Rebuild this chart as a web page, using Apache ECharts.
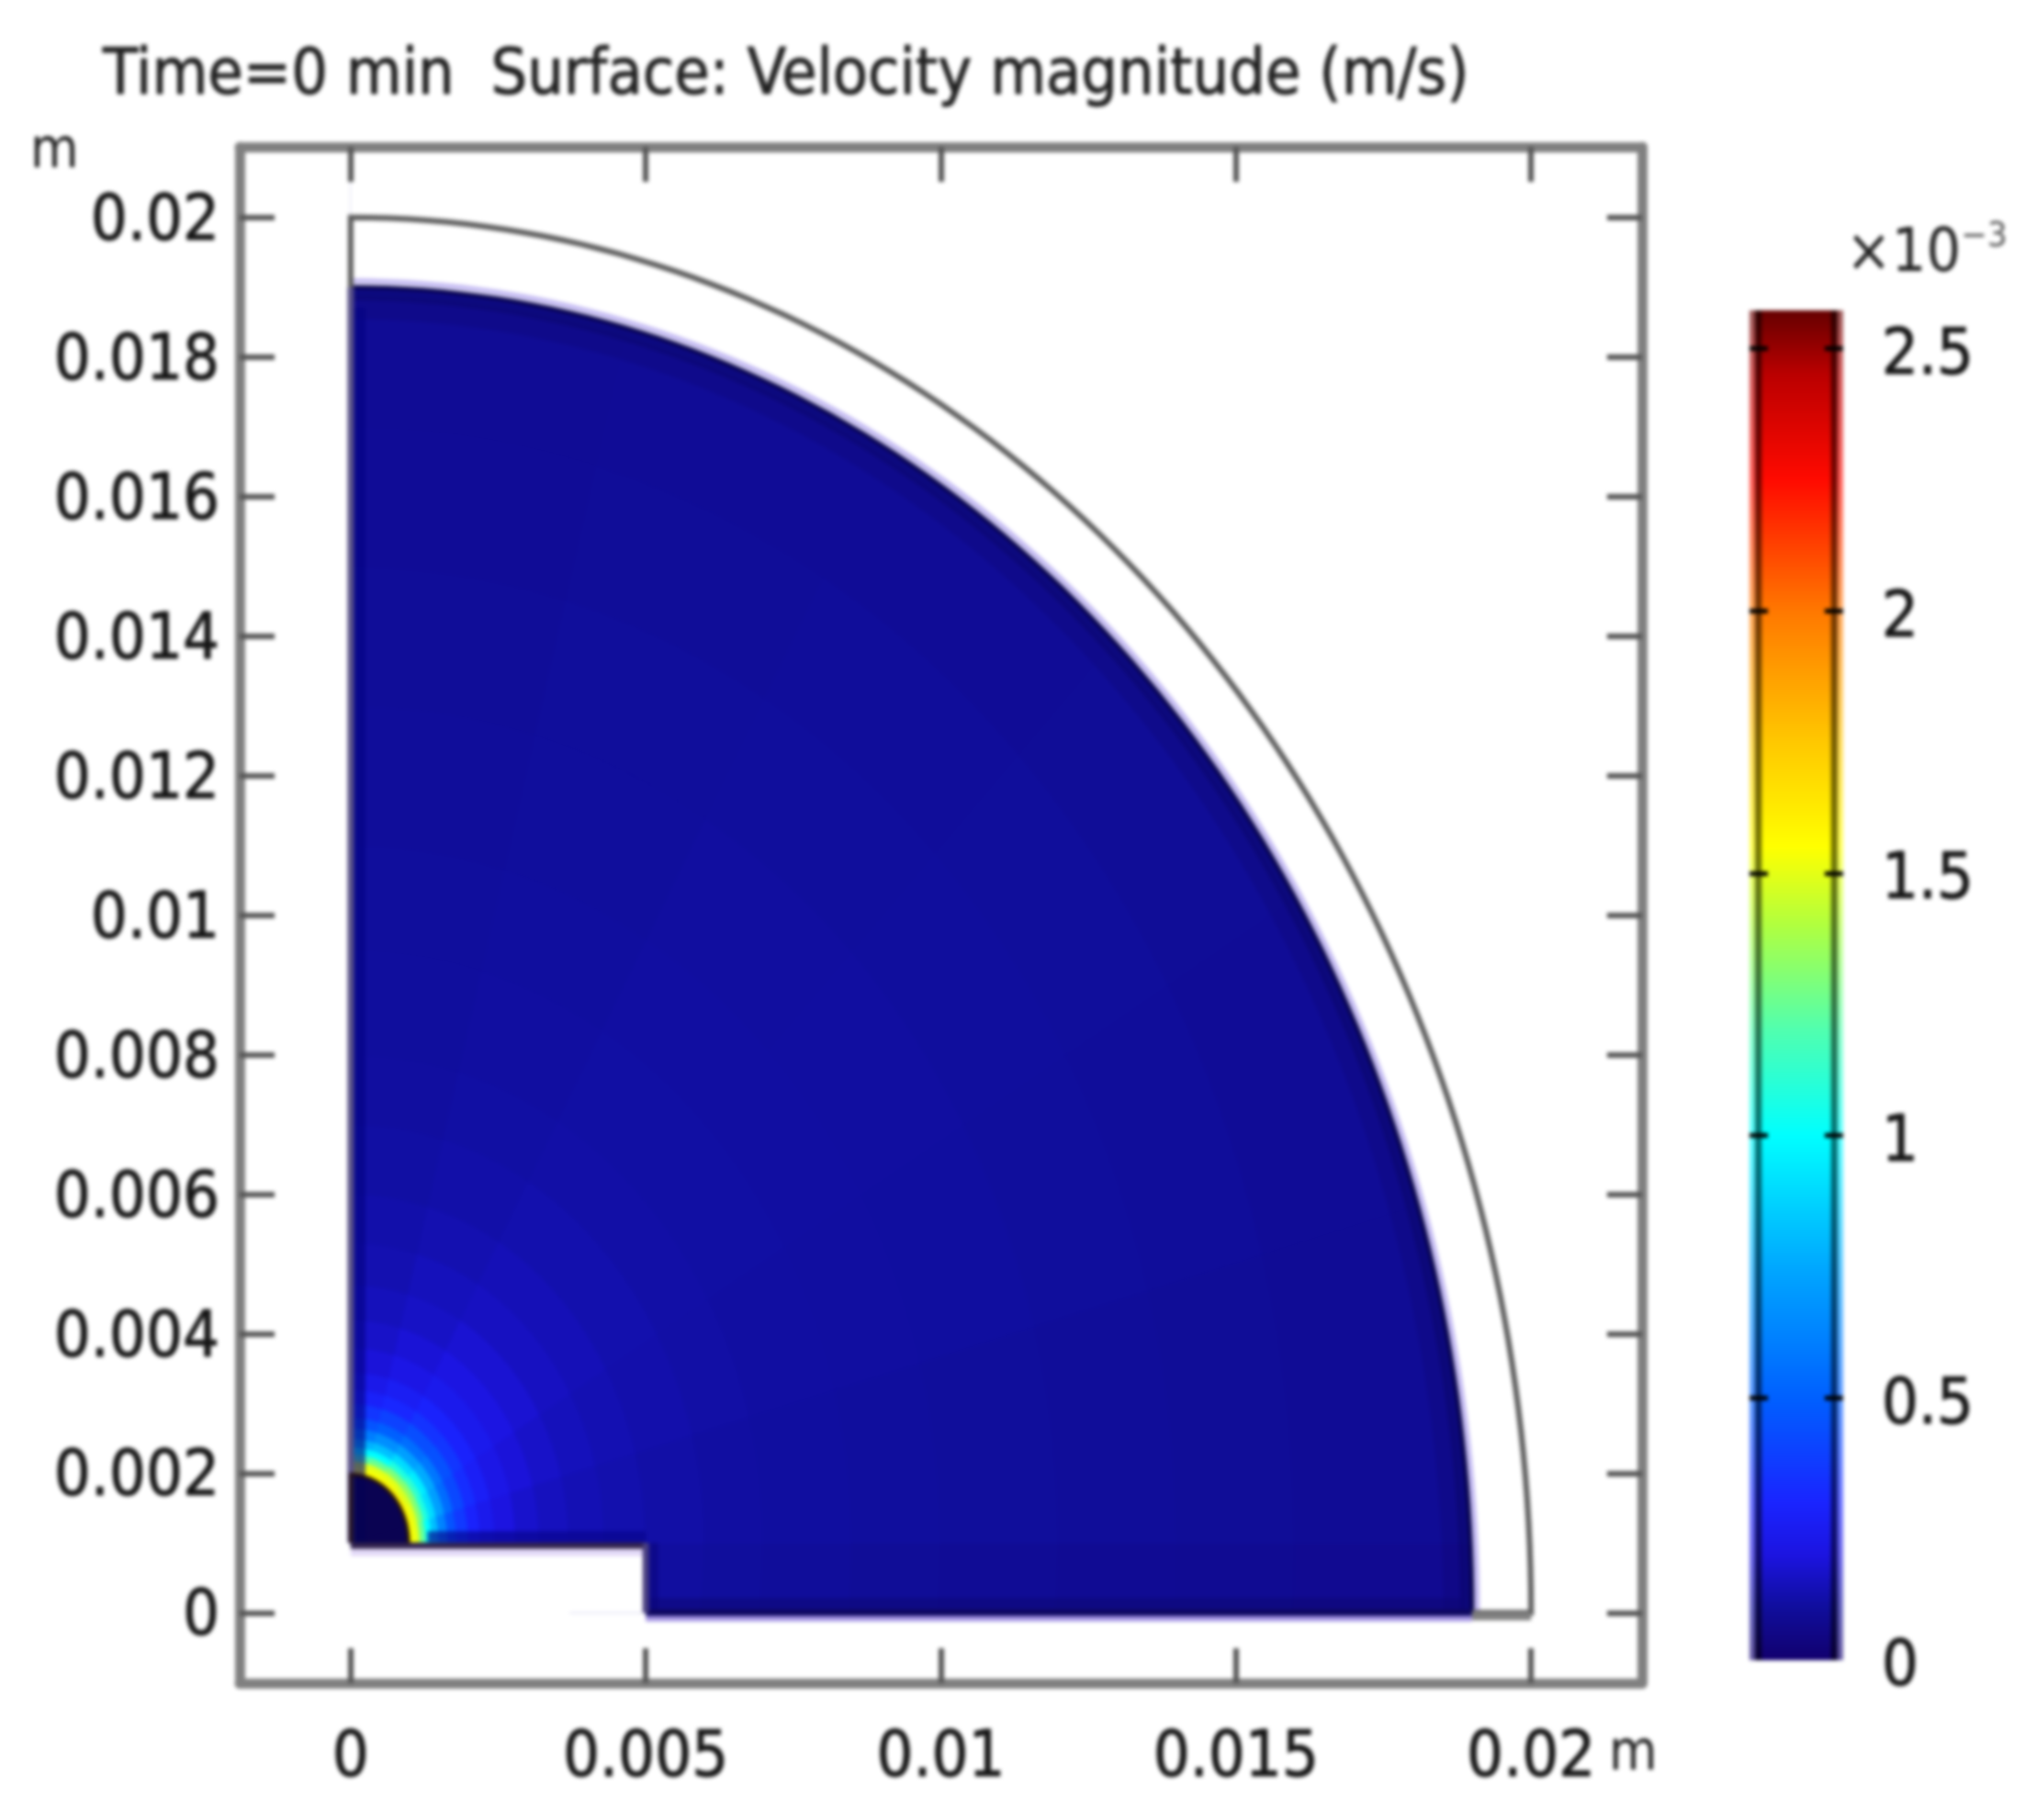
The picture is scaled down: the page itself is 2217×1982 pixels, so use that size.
<!DOCTYPE html>
<html>
<head>
<meta charset="utf-8">
<style>
html,body{margin:0;padding:0;background:#fff}
#chart{width:2217px;height:1982px;filter:blur(2.2px)}
</style>
<script src="https://cdn.jsdelivr.net/npm/echarts@6/dist/echarts.min.js"></script>
</head>
<body>
<div id="chart"></div>
<script>
// ---- tick labels
const xTickValues = [0, 0.005, 0.01, 0.015, 0.02];
const yTickValues = [0, 0.002, 0.004, 0.006, 0.008, 0.01, 0.012, 0.014, 0.016, 0.018, 0.02];
const barLabelValues = [0, 0.5, 1, 1.5, 2, 2.5];
const barTickValues = [0.5, 1, 1.5, 2, 2.5];
// ---- geometry of the model (m)
const wallRadius = 0.02;
const domainRadius = 0.019;
const holeRadius = 0.00098;
const holeCentreY = 0.001;
const stepX = 0.005;
// ---- velocity magnitude (x10^-3 m/s), ring by ring around the hole
const ringEdges = [0,0.00098,0.00108,0.00118,0.00128,0.00138,0.0015,0.00165,0.0018,0.002,0.0022,0.00245,0.0028,0.0032,0.0037,0.0043,0.005,0.006,0.007,0.0085,0.01,0.012,0.014,0.016,0.0195];
const sectorEdges = [-15,0,15,30,45,60,75,90];
const speedRows = [
 [.03,.03,.03,.03,.03,.03,.03],
 [1.55,1.55,1.58,1.6,1.58,1.55,1.55],
 [1.45,1.5,1.5,1.48,1.5,1.5,1.48],
 [1.2,1.25,1.3,1.32,1.3,1.25,1.2],
 [.95,1.0,1.08,1.12,1.08,1.0,.98],
 [.75,.82,.9,.95,.9,.82,.78],
 [.6,.62,.72,.76,.72,.66,.6],
 [.45,.46,.54,.58,.55,.5,.46],
 [.36,.37,.42,.45,.44,.4,.36],
 [.28,.29,.33,.36,.35,.31,.28],
 [.23,.24,.27,.29,.29,.26,.23],
 [.19,.2,.22,.24,.24,.215,.19],
 [.16,.17,.19,.205,.205,.185,.165],
 [.14,.15,.165,.18,.18,.16,.145],
 [.125,.135,.145,.155,.155,.145,.13],
 [.115,.125,.132,.14,.14,.13,.12],
 [.105,.115,.122,.125,.125,.118,.11],
 [.1,.108,.113,.115,.115,.11,.105],
 [.095,.104,.108,.11,.11,.106,.101],
 [.09,.102,.106,.108,.108,.103,.099],
 [.085,.098,.104,.106,.105,.1,.096],
 [.08,.094,.1,.102,.1,.097,.092],
 [.078,.09,.095,.097,.095,.092,.088],
 [.075,.085,.088,.09,.088,.086,.084]
];
// ---- colour table of the scale bar
const rampValues = [0,0.1,0.2,0.3,0.5,0.75,1.0,1.2,1.4,1.55,1.75,2.0,2.25,2.45,2.573];
const rampColors = ['#12006e','#100e9c','#1c14e0','#1a24ff','#0060ff','#00a8ff','#00ffff','#50ffb0','#b0ff40','#ffff00','#ffc800','#ff7800','#ff0a00','#bb0000','#650000'];

const X_MIN=-0.00188, X_MAX=0.02188, Y_MIN=-0.00101, Y_MAX=0.02101, BAR_MAX=2.573;
const LABEL_FONT='"DejaVu Sans Condensed","DejaVu Sans",sans-serif';

function hex(c){return [1,3,5].map(i=>parseInt(c.substr(i,2),16));}
function speedColor(v){
  let i=0; while(i<rampValues.length-2 && v>rampValues[i+1]) i++;
  const t=Math.max(0,Math.min(1,(v-rampValues[i])/(rampValues[i+1]-rampValues[i])));
  const a=hex(rampColors[i]),b=hex(rampColors[i+1]);
  return 'rgb('+a.map((x,k)=>Math.round(x+(b[k]-x)*t)).join(',')+')';
}
function arc(r,a0,a1,cy){
  const out=[];const n=96;
  for(let k=0;k<=n;k++){const a=(a0+(a1-a0)*k/n)*Math.PI/180;out.push([r*Math.cos(a),(cy||0)+r*Math.sin(a)]);}
  return out;
}
// field cells
const fieldData=[];
speedRows.forEach((row,i)=>row.forEach((v,j)=>fieldData.push([i,j,v])));
function renderCell(p,api){
  const i=api.value(0),j=api.value(1),v=api.value(2);
  const r0=ringEdges[i],r1=ringEdges[i+1],a0=sectorEdges[j],a1=sectorEdges[j+1];
  const pts=[];
  for(let k=0;k<=6;k++){const a=(a0+(a1-a0)*k/6)*Math.PI/180;pts.push(api.coord([r1*Math.cos(a),holeCentreY+r1*Math.sin(a)]));}
  for(let k=6;k>=0;k--){const a=(a0+(a1-a0)*k/6)*Math.PI/180;pts.push(api.coord([r0*Math.cos(a),holeCentreY+r0*Math.sin(a)]));}
  const c=speedColor(v);
  return {type:'polygon',shape:{points:pts},style:{fill:c,stroke:c,lineWidth:1.5}};
}
// white areas outside the fluid domain
const masks=[
  arc(domainRadius,90,0).concat([[X_MAX,0],[X_MAX,Y_MAX],[0,Y_MAX]]),
  [[X_MIN,Y_MIN],[0,Y_MIN],[0,Y_MAX],[X_MIN,Y_MAX]],
  [[X_MIN,Y_MIN],[X_MAX,Y_MIN],[X_MAX,0],[X_MIN,0]],
  [[0,0],[stepX,0],[stepX,holeCentreY],[0,holeCentreY]]
];
// outlines
const outlines=[
  {pts:arc(domainRadius-0.0003,90,0),stroke:'rgba(12,6,100,0.22)',w:24},
  {pts:arc(domainRadius-0.00012,90,0),stroke:'rgba(8,4,90,0.4)',w:10},
  {pts:[[0.00014,domainRadius-0.0003],[0.00014,holeCentreY]],stroke:'rgba(4,2,130,0.6)',w:14},
  {pts:[[stepX,0.00012],[domainRadius-0.0002,0.00012]],stroke:'rgba(14,6,110,0.45)',w:14},
  {pts:[[0.0013,holeCentreY+0.00009],[stepX,holeCentreY+0.00009]],stroke:'rgba(8,4,140,0.65)',w:12},
  {pts:[[stepX+0.00012,0],[stepX+0.00012,holeCentreY]],stroke:'rgba(10,4,120,0.5)',w:12},
  {pts:arc(domainRadius+0.00009,90,0),stroke:'#c0b6f2',w:5},
  {pts:[[stepX,-0.00008],[domainRadius,-0.00008]],stroke:'#a596e4',w:7},
  {pts:[[0,holeCentreY-0.00014],[stepX,holeCentreY-0.00014]],stroke:'#e2d8f8',w:7},
  {pts:arc(domainRadius,90,0),stroke:'#08044e',w:5},
  {pts:[[stepX,0],[domainRadius,0]],stroke:'#0e0860',w:7},
  {pts:[[0,holeCentreY-0.00004],[stepX,holeCentreY-0.00004]],stroke:'#33244f',w:7},
  {pts:[[stepX,0],[stepX,holeCentreY]],stroke:'#4a4080',w:7},
  {pts:[[0,domainRadius],[0,holeCentreY]],stroke:'#5c5488',w:7},
  {pts:arc(holeRadius,0,90,holeCentreY).concat([[0,holeCentreY]]),stroke:'rgba(30,8,10,0.85)',w:4,fill:'rgba(4,2,40,0.5)'},
  {pts:[[0,domainRadius]].concat(arc(wallRadius,90,0)).concat([[domainRadius,0]]),stroke:'#5c5c5c',w:6},
  {pts:[[domainRadius,-0.00005],[wallRadius,-0.00005]],stroke:'#808080',w:9}
];

function polySeries(list,z,styler){
  return {type:'custom',coordinateSystem:'cartesian2d',xAxisIndex:0,yAxisIndex:0,z:z,silent:true,clip:false,
    data:list.map((_,i)=>[i]),
    renderItem:(p,api)=>styler(list[api.value(0)],api)};
}
const tickFmt=v=>String(+v.toFixed(4));
const frameTick={show:true,inside:true,length:38,lineStyle:{color:'#555',width:6}};
function frameAxis(pos,extra){
  return Object.assign({type:'value',position:pos,gridIndex:0,z:10,
    axisLine:{show:true,onZero:false,lineStyle:{color:'#808080',width:11}},
    splitLine:{show:false},minorTick:{show:false},
    axisLabel:{show:false}},extra);
}
const labelStyle={color:'#161616',textBorderColor:'#222',textBorderWidth:1,fontFamily:LABEL_FONT,fontSize:70};
const option={
  animation:false,
  backgroundColor:'#fff',
  title:{text:'Time=0 min  Surface: Velocity magnitude (m/s)',left:112,top:49,padding:0,
    textStyle:{color:'#222',textBorderColor:'#333',textBorderWidth:1,fontFamily:LABEL_FONT,fontSize:69.5,fontWeight:'normal'}},
  grid:[
    {left:261,right:429,top:160,bottom:149,containLabel:false},
    {left:1905,right:210,top:338,bottom:174,containLabel:false}
  ],
  xAxis:[
    frameAxis('bottom',{min:X_MIN,max:X_MAX,
      axisTick:Object.assign({customValues:xTickValues},frameTick),
      axisLabel:Object.assign({show:true,margin:48,customValues:xTickValues,formatter:tickFmt},labelStyle)}),
    frameAxis('top',{min:X_MIN,max:X_MAX,
      axisTick:Object.assign({customValues:xTickValues},frameTick)}),
    {type:'value',gridIndex:1,min:0,max:1,show:false}
  ],
  yAxis:[
    frameAxis('left',{min:Y_MIN,max:Y_MAX,
      axisTick:Object.assign({customValues:yTickValues},frameTick),
      axisLabel:Object.assign({show:true,margin:22,verticalAlign:'top',lineHeight:12,customValues:yTickValues,formatter:tickFmt},labelStyle)}),
    frameAxis('right',{min:Y_MIN,max:Y_MAX,
      axisTick:Object.assign({customValues:yTickValues},frameTick)}),
    {type:'value',gridIndex:1,position:'left',min:0,max:BAR_MAX,z:10,axisLine:{show:false},splitLine:{show:false},
      axisTick:{show:true,inside:true,length:20,customValues:barTickValues,lineStyle:{color:'#000',width:5}},axisLabel:{show:false}},
    {type:'value',gridIndex:1,position:'right',min:0,max:BAR_MAX,z:10,axisLine:{show:false},splitLine:{show:false},
      axisTick:{show:true,inside:true,length:20,customValues:barTickValues,lineStyle:{color:'#000',width:5}},
      axisLabel:Object.assign({show:true,margin:42,verticalAlign:'top',lineHeight:18,customValues:barLabelValues,formatter:v=>String(v)},labelStyle)}
  ],
  series:[
    {type:'custom',coordinateSystem:'cartesian2d',xAxisIndex:0,yAxisIndex:0,z:1,silent:true,clip:true,
      data:fieldData,dimensions:['ring','sector','speed'],encode:{x:0,y:1},renderItem:renderCell},
    polySeries(masks,2,(pts,api)=>({type:'polygon',shape:{points:pts.map(q=>api.coord(q))},style:{fill:'#fff'}})),
    polySeries(outlines,3,(o,api)=>({type:'polyline',shape:{points:o.pts.map(q=>api.coord(q))},style:{stroke:o.stroke,lineWidth:o.w,fill:o.fill||null}})),
    // colour bar
    {type:'custom',coordinateSystem:'cartesian2d',xAxisIndex:2,yAxisIndex:2,z:1,silent:true,clip:false,data:[[0]],
      renderItem:(p,api)=>{
        const a=api.coord([0,BAR_MAX]),b=api.coord([1,0]);
        return {type:'rect',shape:{x:a[0],y:a[1],width:b[0]-a[0],height:b[1]-a[1]},
          style:{fill:new echarts.graphic.LinearGradient(0,1,0,0,rampValues.map((v,i)=>({offset:v/BAR_MAX,color:rampColors[i]})))}};
      }},
    {type:'custom',coordinateSystem:'cartesian2d',xAxisIndex:2,yAxisIndex:2,z:2,silent:true,clip:false,
      data:[[0,0.06,0],[0.06,0.13,1],[0.87,0.94,1],[0.94,1,0]],
      renderItem:(p,api)=>{
        const a=api.coord([api.value(0),BAR_MAX]),b=api.coord([api.value(1),0]);
        return {type:'rect',shape:{x:a[0],y:a[1],width:b[0]-a[0],height:b[1]-a[1]},
          style:{fill:api.value(2)?'rgba(0,0,0,0.55)':'rgba(255,255,255,0.35)'}};
      }}
  ],
  graphic:[
    {type:'text',left:33,top:136,style:{text:'m',fill:'#222',font:'60px '+LABEL_FONT}},
    {type:'text',left:1752,top:1881,style:{text:'m',fill:'#222',font:'60px '+LABEL_FONT}},
    {type:'text',left:2010,top:239,style:{
      text:'{a|×10}{b|−3}',
      rich:{a:{fill:'#222',fontFamily:LABEL_FONT,fontSize:66,verticalAlign:'bottom'},
            b:{fill:'#555',fontFamily:LABEL_FONT,fontSize:38,verticalAlign:'top',padding:[0,0,34,0]}}}}
  ]
};
const chart=echarts.init(document.getElementById('chart'),null,{renderer:'canvas'});
chart.setOption(option);
</script>
</body>
</html>
